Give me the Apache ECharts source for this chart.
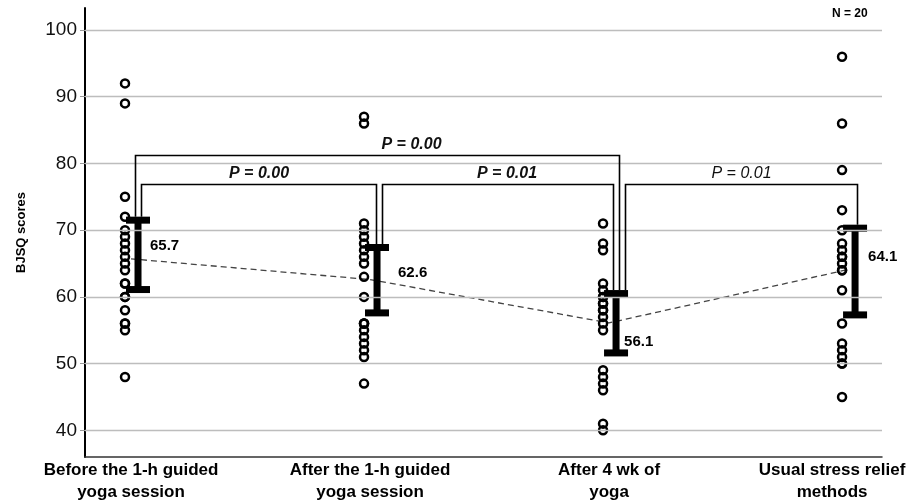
<!DOCTYPE html>
<html><head><meta charset="utf-8">
<script src="https://cdn.jsdelivr.net/npm/echarts@6/dist/echarts.min.js"></script>
<style>html,body{margin:0;padding:0;background:#fff}#c{width:910px;height:502px}</style>
</head><body><div id="c"></div>
<script>
const categories = ['Before the 1-h guided\nyoga session', 'After the 1-h guided\nyoga session', 'After 4 wk of\nyoga', 'Usual stress relief\nmethods'];
const groupPos = [1, 2, 3, 4];
const scoresBefore = [92, 89, 75, 72, 70, 69, 68, 67, 66, 65, 64, 62, 62, 60, 60, 58, 56, 56, 55, 48];
const scoresAfter1h = [87, 86, 71, 70, 69, 68, 67, 66, 65, 63, 60, 56, 56, 56, 55, 54, 53, 52, 51, 47];
const scoresAfter4wk = [71, 68, 67, 62, 61, 60, 60, 59, 59, 58, 58, 57, 56, 55, 49, 48, 47, 46, 41, 40];
const scoresUsual = [96, 86, 79, 73, 70, 68, 67, 66, 66, 65, 64, 64, 61, 56, 53, 52, 51, 50, 50, 45];
const means = [65.7, 62.6, 56.1, 64.1];
const ciLower = [61.1, 57.6, 51.6, 57.3];
const ciUpper = [71.5, 67.4, 60.5, 70.3];
const yTicks = [40, 50, 60, 70, 80, 90, 100];
const pFrom = [0, 0, 1, 2];
const pTo = [2, 1, 2, 3];
const pLevel = [81.3, 76.85, 76.85, 76.85];
const pLabels = ['P = 0.00', 'P = 0.00', 'P = 0.01', 'P = 0.01'];
const nLabel = 'N = 20';

// styling (pixel offsets)
const fromDx = [4, 10, 12, 16];
const toDx = [10, 6, 4, 9];
const textDx = [34, 0, 9, 0];
const pBold = [true, true, true, false];
const meanLabelOffset = [[19, -13], [28, -7], [15, 19], [20, -13]];
const NARROW = "'Liberation Sans Narrow', 'Arial Narrow', 'Liberation Sans', Arial, sans-serif";
const SANS = "'Liberation Sans', Arial, sans-serif";

const allScores = [scoresBefore, scoresAfter1h, scoresAfter4wk, scoresUsual];
const dotData = [];
allScores.forEach((arr, g) => arr.forEach(v => dotData.push([groupPos[g], v])));

const chart = echarts.init(document.getElementById('c'));
chart.setOption({
  animation: false,
  backgroundColor: '#fff',
  grid: { left: 85, right: 28, top: 8, bottom: 45, containLabel: false, outerBoundsMode: 'none' },
  xAxis: {
    type: 'value', min: 0.8075, max: 4.142,
    splitLine: { show: false },
    axisTick: { show: false },
    axisLine: { show: true, lineStyle: { color: '#333', width: 1.5 } },
    axisLabel: {
      customValues: groupPos,
      margin: 2,
      color: '#000', fontWeight: 'bold', fontSize: 17, lineHeight: 22, fontFamily: NARROW,
      formatter: v => {
        const i = groupPos.indexOf(v);
        return i === 3 ? '{last|' + categories[i].split('\n').join('}\n{last|') + '}' : categories[i];
      },
      rich: { last: { padding: [0, 32, 0, 0], fontWeight: 'bold', fontSize: 17, lineHeight: 22, fontFamily: NARROW, color: '#000' } }
    }
  },
  yAxis: {
    type: 'value', min: 36, max: 103.3,
    name: 'BJSQ scores', nameLocation: 'middle', nameGap: 57, nameRotate: 90,
    nameTextStyle: { fontWeight: 'bold', fontSize: 13, fontFamily: SANS, color: '#000' },
    splitLine: { show: false },
    axisLine: { show: true, lineStyle: { color: '#000', width: 2 } },
    axisTick: { show: true, customValues: yTicks, length: 5, lineStyle: { color: '#999' } },
    axisLabel: { customValues: yTicks, fontSize: 19, color: '#111', fontFamily: SANS, margin: 8 }
  },
  graphic: [{ type: 'text', left: 832, top: 8, style: { text: nLabel, font: 'bold 12px ' + SANS, fill: '#000' } }],
  series: [
    {
      type: 'line', z: 1, silent: true,
      data: groupPos.map((p, i) => [p, means[i]]),
      symbol: 'none',
      lineStyle: { color: '#444', width: 1.3, type: [6, 4] },
      markLine: {
        silent: true, symbol: 'none', label: { show: false },
        lineStyle: { color: '#bdbdbd', width: 1.3, type: 'solid' },
        data: yTicks.map(v => ({ yAxis: v }))
      }
    },
    {
      type: 'scatter', z: 3, silent: true,
      data: dotData,
      symbol: 'circle', symbolSize: 8, symbolOffset: [-6, 0],
      itemStyle: { color: 'rgba(0,0,0,0)', borderColor: '#000', borderWidth: 2.5, opacity: 1 }
    },
    {
      type: 'custom', z: 4, silent: true,
      data: groupPos.map((p, i) => [p, ciLower[i], ciUpper[i], means[i]]),
      encode: { x: 0, y: [1, 2] },
      renderItem: (params, api) => {
        const i = params.dataIndex;
        const hi = api.coord([api.value(0), api.value(2)]);
        const lo = api.coord([api.value(0), api.value(1)]);
        const m = api.coord([api.value(0), api.value(3)]);
        const x = hi[0] + 7;
        const st = { fill: '#000' };
        return { type: 'group', children: [
          { type: 'rect', shape: { x: x - 3.5, y: hi[1], width: 7, height: lo[1] - hi[1] }, style: st },
          { type: 'rect', shape: { x: x - 12, y: hi[1] - 3.5, width: 24, height: 7 }, style: st },
          { type: 'rect', shape: { x: x - 12, y: lo[1] - 3.5, width: 24, height: 7 }, style: st },
          { type: 'text', style: { text: means[i].toFixed(1),
            x: m[0] + meanLabelOffset[i][0], y: m[1] + meanLabelOffset[i][1],
            textAlign: 'left', textVerticalAlign: 'middle', align: 'left', verticalAlign: 'middle',
            fill: '#000', font: 'bold 15px ' + SANS } }
        ] };
      }
    },
    {
      type: 'custom', z: 5, silent: true,
      data: pLevel.map((l, i) => [groupPos[pFrom[i]], l]),
      encode: { x: 0, y: 1 },
      renderItem: (params, api) => {
        const i = params.dataIndex;
        const f = pFrom[i], t = pTo[i];
        const pl = api.coord([groupPos[f], pLevel[i]]);
        const pr = api.coord([groupPos[t], pLevel[i]]);
        const fy = api.coord([groupPos[f], ciUpper[f]])[1] - 3.5;
        const ty = api.coord([groupPos[t], ciUpper[t]])[1] - 3.5;
        const xl = Math.round(pl[0] + fromDx[i]) + 0.5, xr = Math.round(pr[0] + toDx[i]) + 0.5, y = Math.round(pl[1]) + 0.5;
        return { type: 'group', children: [
          { type: 'polyline', shape: { points: [[xl, fy], [xl, y], [xr, y], [xr, ty]] }, style: { stroke: '#000', lineWidth: 1.6, fill: null } },
          { type: 'text', style: { text: pLabels[i], x: (xl + xr) / 2 + textDx[i], y: y - 11,
            textAlign: 'center', textVerticalAlign: 'middle', align: 'center', verticalAlign: 'middle',
            fill: '#111', font: 'italic ' + (pBold[i] ? 'bold ' : '') + '16px ' + NARROW } }
        ] };
      }
    }
  ]
});
</script></body></html>
